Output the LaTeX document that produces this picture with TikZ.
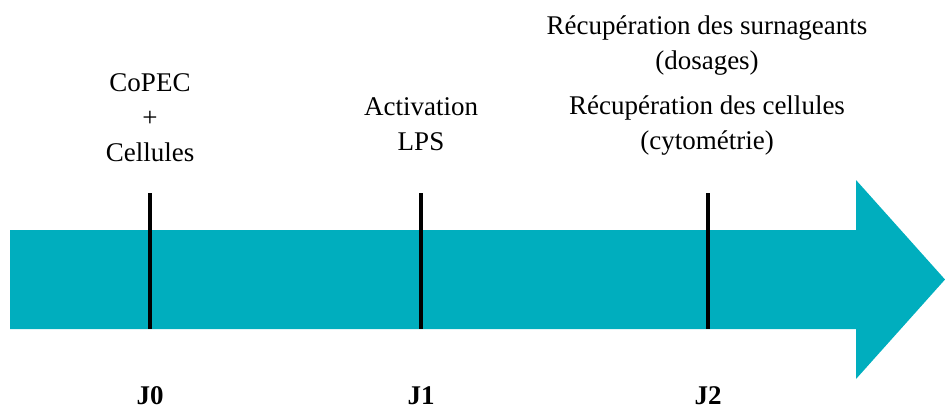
\documentclass[tikz,border=0pt]{standalone}
\usepackage{fontspec}
\setmainfont{Liberation Serif}
\definecolor{teal}{RGB}{0,174,190}
\begin{document}
\begin{tikzpicture}[x=1pt,y=-1pt,
  lbl/.style={font=\fontsize{27}{35}\selectfont, align=center, inner sep=0pt, anchor=north},
  jlbl/.style={font=\fontsize{27}{35}\selectfont\bfseries, inner sep=0pt, anchor=base},
  tick/.style={line width=3.4pt, black}]
\useasboundingbox (0,0) rectangle (945,408);
\fill[teal] (10,230) -- (856,230) -- (856,180) -- (945,279.5) -- (856,379) -- (856,329) -- (10,329) -- cycle;
\coordinate (t0a) at (150,193); \coordinate (t0b) at (150,329);
\coordinate (t1a) at (421,193); \coordinate (t1b) at (421,329);
\coordinate (t2a) at (708,193); \coordinate (t2b) at (708,329);
\draw[tick] (t0a) -- (t0b);
\draw[tick] (t1a) -- (t1b);
\draw[tick] (t2a) -- (t2b);
\node[lbl] (a0) at (150,73) {CoPEC\\+\\Cellules};
\node[lbl] (a1) at (421,97) {Activation\\LPS};
\node[lbl] (a2) at (707,16) {Récupération des surnageants\\(dosages)};
\node[lbl] (a3) at (707,96) {Récupération des cellules\\(cytométrie)};
\node[jlbl] (j0) at (150,404) {J0};
\node[jlbl] (j1) at (421,404) {J1};
\node[jlbl] (j2) at (708,404) {J2};
\end{tikzpicture}
\end{document}
